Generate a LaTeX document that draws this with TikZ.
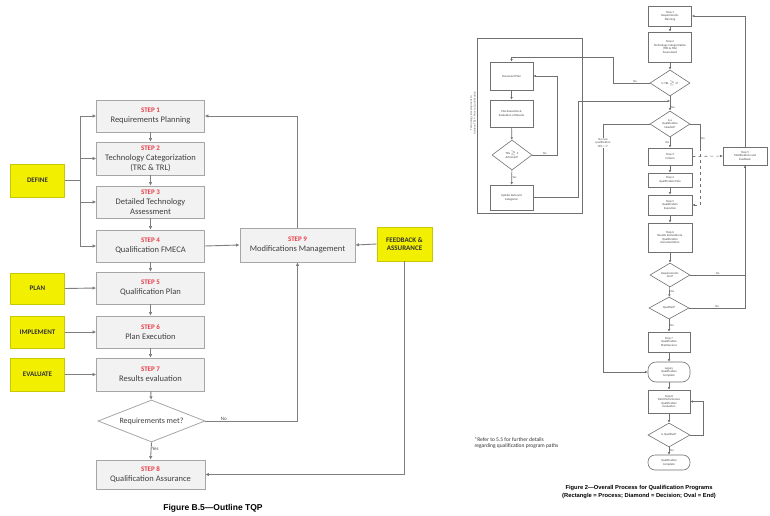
\documentclass[tikz,border=0pt]{standalone}
\usepackage{fontspec}
\setmainfont{Carlito}
\newfontfamily\capfont{Liberation Sans}
\usetikzlibrary{shapes.geometric,arrows.meta,calc}
\definecolor{boxfill}{HTML}{F2F2F2}
\definecolor{boxline}{HTML}{A6A6A6}
\definecolor{lineg}{HTML}{7F7F7F}
\definecolor{yel}{HTML}{F2F000}
\definecolor{yelline}{HTML}{C8C800}
\definecolor{stepred}{HTML}{E8404A}
\definecolor{rline}{HTML}{707070}
\tikzset{
  stepbox/.style={draw=boxline,fill=boxfill,line width=0.8pt,minimum width=108pt,inner sep=1pt,align=center,font=\fontsize{8.5}{10}\selectfont,text=black!75},
  yelbox/.style={draw=yelline,fill=yel,line width=0.8pt,minimum width=54pt,inner sep=1pt,align=center,font=\fontsize{7}{8.5}\selectfont\bfseries,text=black!80},
  decis/.style={diamond,aspect=2.55,draw=boxline,fill=white,line width=0.8pt,inner sep=0pt,align=center,font=\fontsize{8}{9}\selectfont,text=black!75},
  arr/.style={draw=lineg,line width=0.9pt,-{Latex[length=3.5pt,width=3.5pt]}},
  ln/.style={draw=lineg,line width=0.9pt},
  lbl/.style={font=\fontsize{5}{6}\selectfont,text=black!70,inner sep=0.5pt},
  rbox/.style={draw=rline,line width=0.6pt,fill=white,inner sep=0.5pt,align=center,font=\fontsize{3}{3.6}\selectfont,text=black!75},
  rdia/.style={diamond,aspect=1.6,draw=rline,line width=0.6pt,fill=white,inner sep=0pt,align=center,font=\fontsize{3}{3.6}\selectfont,text=black!75},
  rarr/.style={draw=rline,line width=0.6pt,-{Latex[length=2.5pt,width=2.5pt]}},
  rln/.style={draw=rline,line width=0.6pt},
  rlbl/.style={font=\fontsize{3}{3.6}\selectfont,text=black!70,inner sep=0.5pt,align=center},
}
\newcommand{\stp}[2]{{\color{stepred}\bfseries\fontsize{7}{9}\selectfont STEP #1}\\#2}
\begin{document}
\begin{tikzpicture}[x=1pt,y=-1pt]
\useasboundingbox[fill=white] (0,0) rectangle (770,516);

% ---------------- left diagram ----------------
\node[stepbox,minimum height=32pt] (s1) at (150.5,116) {\stp{1}{Requirements Planning}};
\node[stepbox,minimum height=33pt] (s2) at (150.5,158.5) {\stp{2}{Technology Categorization\\(TRC \& TRL)}};
\node[stepbox,minimum height=32pt] (s3) at (150.5,202) {\stp{3}{Detailed Technology\\Assessment}};
\node[stepbox,minimum height=32pt] (s4) at (150.5,246) {\stp{4}{Qualification FMECA}};
\node[stepbox,minimum height=32pt] (s5) at (150.5,288) {\stp{5}{Qualification Plan}};
\node[stepbox,minimum height=32pt] (s6) at (150.5,332) {\stp{6}{Plan Execution}};
\node[stepbox,minimum height=33pt] (s7) at (150.5,374.5) {\stp{7}{Results evaluation}};
\node[decis,minimum width=107pt,minimum height=42pt] (dq) at (151.5,421) {Requirements met?};
\node[stepbox,minimum height=29pt,minimum width=109pt] (s8) at (150.5,474.5) {\stp{8}{Qualification Assurance}};
\node[stepbox,minimum height=34pt,minimum width=115pt] (s9) at (297.5,245) {\stp{9}{Modifications Management}};

\node[yelbox,minimum height=33pt] (def) at (37.5,180.5) {DEFINE};
\node[yelbox,minimum height=31pt] (pln) at (37.5,288.5) {PLAN};
\node[yelbox,minimum height=32pt] (imp) at (37.5,332) {IMPLEMENT};
\node[yelbox,minimum height=33pt] (evl) at (37.5,374.5) {EVALUATE};
\node[yelbox,minimum height=34pt,minimum width=55pt] (fb) at (404.5,244) {FEEDBACK \&\\ASSURANCE};

\coordinate (dj) at (80,180.5);
\draw[ln] (def.east) -- (dj);
\draw[arr] (dj) |- (s1.west);
\draw[arr] (dj) |- (s2.west);
\draw[arr] (dj) |- (s3.west);
\draw[arr] (dj) |- (s4.west);
\draw[arr] (pln.east) -- (s5.west);
\draw[arr] (imp.east) -- (s6.west);
\draw[arr] (evl.east) -- (s7.west);
\draw[arr] (s1) -- (s2);
\draw[arr] (s2) -- (s3);
\draw[arr] (s3) -- (s4);
\draw[arr] (s4) -- (s5);
\draw[arr] (s5) -- (s6);
\draw[arr] (s6) -- (s7);
\draw[arr] (s7) -- (dq);
\draw[arr] (dq.south) -- node[lbl,right,pos=0.35]{Yes} (s8.north);
\draw[arr] (dq.east) -| node[lbl,above,pos=0.1]{No} (s9.south);
\draw[arr] (s4.east) -- (s9.west);
\draw[arr] (fb.west) -- (s9.east);
\draw[arr] (fb.south) |- (s8.east);
\draw[arr] (s9.north) |- (s1.east);

\node[font=\capfont\bfseries\fontsize{8.5}{10}\selectfont] (cap1) at (213,508) {Figure B.5—Outline TQP};

% ---------------- right diagram ----------------
\node[rbox,minimum width=43pt,minimum height=20pt] (r1) at (670,16) {Step 1\\Requirements\\Planning};
\node[rbox,minimum width=43pt,minimum height=30pt] (r2) at (670,47) {Step 2\\Technology Categorization\\(TRC \& TRL)\\Assessment};
\node[rdia,minimum width=40pt,minimum height=26pt] (d1) at (670,83) {Is TRL $\geq$ 4?};
\node[rdia,minimum width=40pt,minimum height=26pt] (d2) at (670,124) {Is a\\Qualification\\Needed?};
\node[rbox,minimum width=44pt,minimum height=17pt] (r3) at (670,156.5) {Step 3\\Criteria};
\node[rbox,minimum width=44pt,minimum height=14pt] (r4) at (670,180) {Step 4\\Qualification Plan};
\node[rbox,minimum width=44pt,minimum height=20pt] (r5) at (670,205) {Step 5\\Qualification\\Execution};
\node[rbox,minimum width=44pt,minimum height=29pt] (r6) at (670,237.5) {Step 6\\Results Evaluation \&\\Qualification\\Documentation};
\node[rdia,minimum width=40pt,minimum height=24pt] (d3) at (670,275) {Requirements\\met?};
\node[rdia,minimum width=40pt,minimum height=22pt] (d4) at (669,308) {Qualified?};
\node[rbox,minimum width=42pt,minimum height=20pt] (r7) at (669,342) {Step 7\\Qualification\\Maintenance};
\node[rbox,rounded corners=8pt,minimum width=42pt,minimum height=20pt] (o1) at (669,372) {Legacy\\Qualification\\Complete};
\node[rbox,minimum width=42pt,minimum height=23pt] (r8) at (669,401.5) {Step 8\\Field Performance\\Qualification\\Evaluation};
\node[rdia,minimum width=42pt,minimum height=24pt] (d5) at (669,435) {Is Qualified?};
\node[rbox,rounded corners=7pt,minimum width=42pt,minimum height=15pt] (o2) at (669,462.5) {Qualification\\Complete};
\node[rbox,minimum width=44pt,minimum height=18pt] (r9) at (745,156) {Step 9\\Modifications and\\Feedback};

\node[draw=rline,line width=0.6pt,minimum width=105pt,minimum height=175pt] (frame) at (529.5,125.5) {};
\node[rbox,minimum width=43pt,minimum height=28pt] (l1) at (511.5,76) {Document Plan};
\node[rbox,minimum width=43pt,minimum height=27pt] (l2) at (511.5,113.5) {Plan Execution \&\\Evaluation of Results};
\node[rdia,minimum width=40pt,minimum height=30pt] (ld) at (512,155) {TRL $\geq$ 4\\Achieved?};
\node[rbox,minimum width=43pt,minimum height=25pt] (l3) at (511.5,197.5) {Update Data and\\Categorize};
\node[rlbl,rotate=90,text=black!60] (vt) at (473,113) {Technology Development to\\Achieve TRL 4 Prior to Qualification};

\draw[rarr] (r1) -- (r2);
\draw[rarr] (r2) -- (d1);
\coordinate (m1) at (670,101);
\draw[rarr] (d1.south) -- node[rlbl,right,pos=0.8]{Yes} (d2.north);
\draw[rarr] (d2) -- node[rlbl,left,pos=0.5]{Yes} (r3);
\draw[rarr] (r3) -- (r4);
\draw[rarr] (r4) -- (r5);
\draw[rarr] (r5) -- (r6);
\draw[rarr] (r6) -- (d3);
\draw[rarr] (d3) -- node[rlbl,right]{Yes} (d4);
\draw[rarr] (d4) -- node[rlbl,right]{Yes} (r7);
\draw[rarr] (r7) -- (o1);
\draw[rarr] (o1) -- (r8);
\draw[rarr] (r8) -- (d5);
\draw[rarr] (d5) -- node[rlbl,right]{Yes} (o2);

\coordinate (c1) at (613,83);
\draw[rarr] (d1.west) -- node[rlbl,above,pos=0.4]{No} (c1) -- (613,57) -| (l1.north);
\draw[rarr] (l1) -- (l2);
\draw[rarr] (l2) -- (ld);
\draw[rarr] (ld) -- node[rlbl,right]{Yes} (l3);
\draw[rarr] (ld.east) -- node[rlbl,above]{No} (557,155) |- (l1.east);
\draw[rarr] (l3.east) -- (578,197.5) |- (m1);

\draw[rarr] (d2.west) -- (603,124) |- (o1.west);
\node[rlbl,fill=white] (nq) at (603,143) {No new\\qualification\\TRC = 1*};

\coordinate (q1) at (700,148);
\draw[rln] (d2.east) -| node[rlbl,right,pos=0.8]{Yes} (q1);
\draw[rarr,dashed] (q1) |- (r5.east);
\draw[rarr,dashed] (r3.east) -- (r9.west);
\draw[rarr] (r9.north) |- (r1.east);
\draw[rarr] (d3.east) -| node[rlbl,above,pos=0.25]{No} (r9.south);
\draw[rln] (d4.east) -| node[rlbl,above,pos=0.25]{No} (r9.south);
\coordinate (q2) at (703,435);
\draw[rarr] (d5.east) -- (q2) |- (r8.east);

\node[font=\fontsize{5.5}{6.8}\selectfont,align=left,anchor=west,text=black!80] (note) at (471,443) {*Refer to 5.5 for further details\\regarding qualification program paths};
\node[font=\capfont\bfseries\fontsize{5.8}{7.5}\selectfont,align=center] (cap2) at (639,492) {Figure 2—Overall Process for Qualification Programs\\(Rectangle = Process; Diamond = Decision; Oval = End)};
\end{tikzpicture}
\end{document}
